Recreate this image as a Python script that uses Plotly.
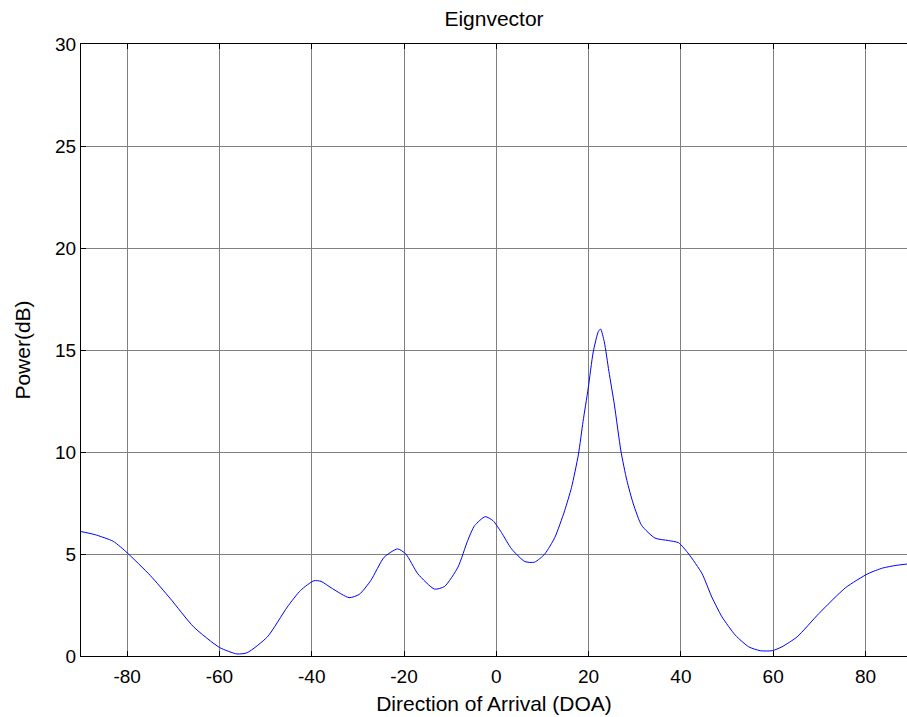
import plotly.graph_objects as go

# Data
doa_deg = [-90, -87, -83, -80, -75, -70.7, -65.6, -60, -56.2, -54, -49.6, -45.3,
           -42.4, -39.5, -38, -35.5, -31.9, -29.7, -27.2, -24.3, -21.4, -19.6,
           -17.0, -13.4, -11.2, -8.3, -6.2, -4.7, -2.4, -0.7, 1.1, 3.3, 6.2, 8.3,
           10.5, 12.7, 14.8, 16.3, 17.8, 18.8, 19.9, 21.0, 22.1, 22.6, 23.4, 24.4,
           25.6, 27.0, 28.3, 29.7, 31.5, 34.4, 37.3, 39.5, 41.7, 44.6, 46.7, 48.9,
           51.8, 54.7, 57.2, 59.8, 61.9, 65.2, 69.9, 75.7, 80.5, 83.7, 86.6, 89.5, 90]
power_db = [6.1, 5.95, 5.62, 5.06, 3.95, 2.83, 1.43, 0.42, 0.1, 0.16, 0.94, 2.4,
            3.22, 3.69, 3.66, 3.3, 2.86, 3.02, 3.7, 4.84, 5.25, 5.0,
            4.03, 3.28, 3.41, 4.36, 5.66, 6.39, 6.83, 6.63, 6.06, 5.25, 4.63, 4.6,
            5.0, 5.82, 7.12, 8.26, 9.89, 11.5, 13.1, 14.9, 15.9, 16.03, 15.4, 13.95,
            12.3, 10.05, 8.6, 7.45, 6.4, 5.78, 5.66, 5.55, 5.0, 4.03, 2.89, 1.92,
            1.02, 0.45, 0.26, 0.26, 0.45, 0.94, 2.08, 3.35, 4.03, 4.31, 4.44, 4.52, 4.53]

x_ticks = [-80, -60, -40, -20, 0, 20, 40, 60, 80]
y_ticks = [0, 5, 10, 15, 20, 25, 30]

FONT = "Liberation Sans, Arial, Helvetica, sans-serif"
TICK_SIZE = 19
LABEL_SIZE = 21

fig = go.Figure()
fig.add_trace(go.Scatter(
    x=doa_deg, y=power_db, mode="lines",
    line=dict(color="#0000ff", width=1, shape="spline", smoothing=0.6),
    showlegend=False, hoverinfo="x+y",
))

fig.update_layout(
    width=907, height=717,
    margin=dict(l=81, r=0, t=44, b=61),
    paper_bgcolor="white", plot_bgcolor="white",
    font=dict(family=FONT, color="black", size=TICK_SIZE),
    title=dict(text="Eignvector", x=494 / 907, xanchor="center",
               y=1 - 19 / 717, yanchor="middle", yref="container",
               font=dict(size=LABEL_SIZE, family=FONT, color="black")),
)

fig.update_xaxes(
    range=[-90, 89], tickvals=x_ticks, ticktext=[str(v) for v in x_ticks],
    showgrid=True, gridcolor="#808080", gridwidth=1, zeroline=False,
    showline=True, linecolor="black", linewidth=1, mirror="allticks",
    ticks="inside", ticklen=5, tickcolor="black", tickwidth=1,
    tickfont=dict(size=TICK_SIZE, family=FONT), ticklabelstandoff=3,
    title=dict(text="Direction of Arrival (DOA)", font=dict(size=LABEL_SIZE, family=FONT), standoff=10),
)
fig.update_yaxes(
    range=[0, 30], tickvals=y_ticks, ticktext=[str(v) for v in y_ticks],
    showgrid=True, gridcolor="#808080", gridwidth=1, zeroline=False,
    showline=True, linecolor="black", linewidth=1, mirror=False,
    ticks="inside", ticklen=5, tickcolor="black", tickwidth=1,
    tickfont=dict(size=TICK_SIZE, family=FONT),
    title=dict(text="Power(dB)", font=dict(size=LABEL_SIZE, family=FONT), standoff=18),
)

fig.write_html(
    "out.html",
    config={"displayModeBar": False},
    post_script="document.body.style.margin='0';document.body.style.overflow='hidden';",
)
